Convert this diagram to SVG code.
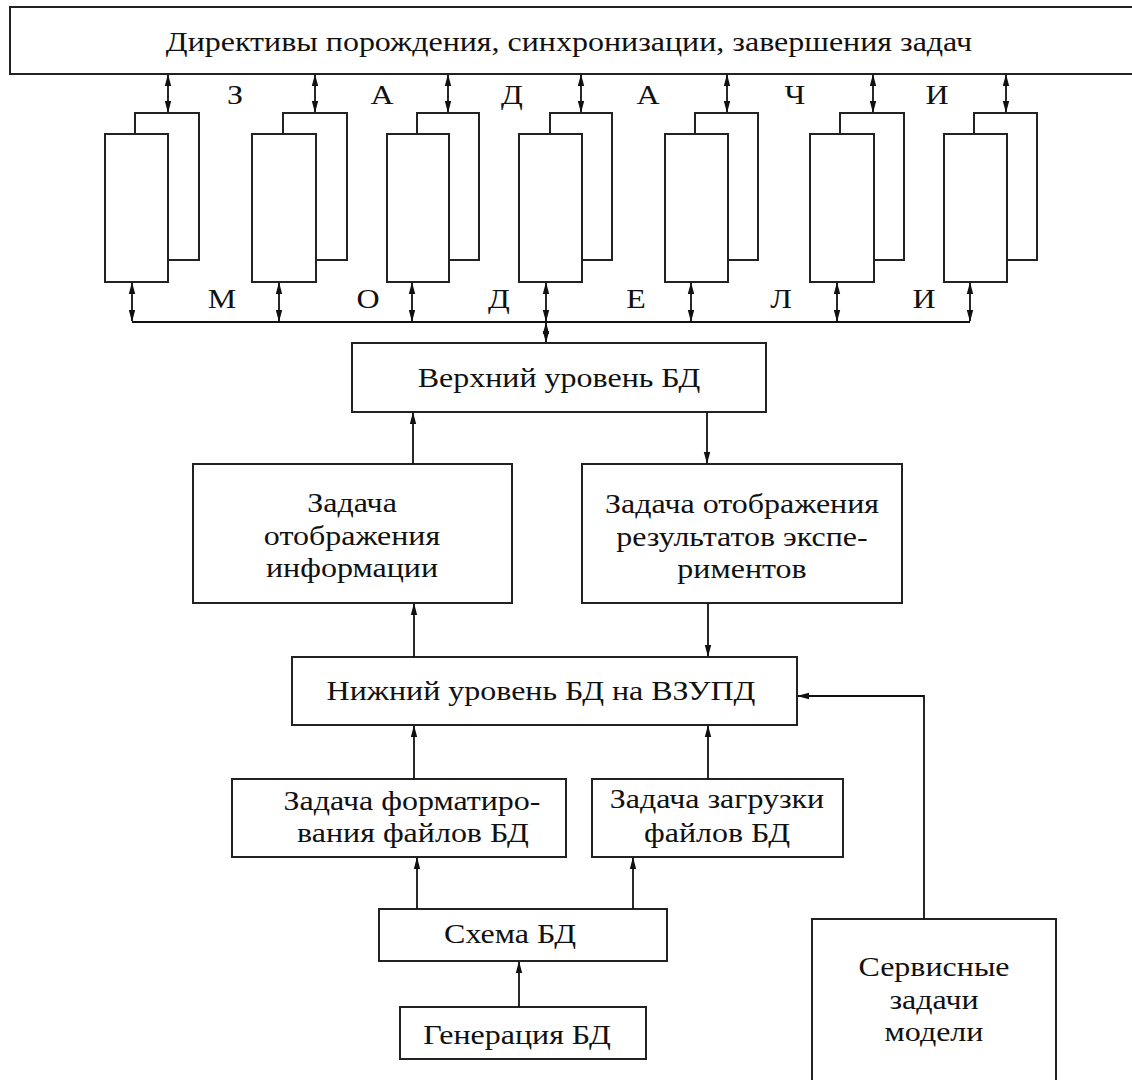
<svg xmlns="http://www.w3.org/2000/svg" width="1132" height="1080" viewBox="0 0 1132 1080">
<style>
.box{fill:#fff;stroke:#222;stroke-width:2}
.back{fill:#fff;stroke:#222;stroke-width:2}
.t{font-family:"Liberation Serif","Times New Roman",serif;font-size:28px;fill:#111;text-anchor:middle}
.c{fill:none;stroke:#111;stroke-width:1.8}
.a{marker-end:url(#ah)}
.d{marker-start:url(#ah);marker-end:url(#ah)}
</style>
<defs>
<marker id="ah" markerUnits="userSpaceOnUse" markerWidth="12" markerHeight="8" refX="11" refY="4" orient="auto-start-reverse" viewBox="0 0 12 8">
<path d="M0,0.8 L12,4 L0,7.2 z" fill="#111"/>
</marker>
</defs>
<rect width="1132" height="1080" fill="#fff"/>

<g id="directives">
<rect class="box" x="10" y="7" width="1130" height="67"/>
<text class="t" transform="translate(569,51) scale(1.143,1)">Директивы порождения, синхронизации, завершения задач</text>
</g>

<g id="task1"><rect class="back" x="135" y="113" width="64" height="147"/><rect class="box" x="105" y="134" width="63" height="148"/></g>
<g id="task2"><rect class="back" x="283" y="113" width="64" height="147"/><rect class="box" x="252" y="134" width="64" height="148"/></g>
<g id="task3"><rect class="back" x="417" y="113" width="62" height="147"/><rect class="box" x="387" y="134" width="62" height="148"/></g>
<g id="task4"><rect class="back" x="550" y="113" width="62" height="147"/><rect class="box" x="519" y="134" width="63" height="148"/></g>
<g id="task5"><rect class="back" x="695" y="113" width="63" height="147"/><rect class="box" x="665" y="134" width="63" height="148"/></g>
<g id="task6"><rect class="back" x="840" y="113" width="64" height="147"/><rect class="box" x="810" y="134" width="64" height="148"/></g>
<g id="task7"><rect class="back" x="974" y="113" width="63" height="147"/><rect class="box" x="944" y="134" width="63" height="148"/></g>

<g id="letters-top">
<text class="t" transform="translate(235,104) scale(1.143,1)">З</text>
<text class="t" transform="translate(382,104) scale(1.143,1)">А</text>
<text class="t" transform="translate(512,104) scale(1.143,1)">Д</text>
<text class="t" transform="translate(648,104) scale(1.143,1)">А</text>
<text class="t" transform="translate(795,104) scale(1.143,1)">Ч</text>
<text class="t" transform="translate(937,104) scale(1.143,1)">И</text>
</g>
<g id="letters-bottom">
<text class="t" transform="translate(222,308) scale(1.143,1)">М</text>
<text class="t" transform="translate(368,308) scale(1.143,1)">О</text>
<text class="t" transform="translate(499,308) scale(1.143,1)">Д</text>
<text class="t" transform="translate(636,308) scale(1.143,1)">Е</text>
<text class="t" transform="translate(781,308) scale(1.143,1)">Л</text>
<text class="t" transform="translate(924,308) scale(1.143,1)">И</text>
</g>

<g id="upper-db"><rect class="box" x="352" y="343" width="414" height="69"/>
<text class="t" transform="translate(559,387) scale(1.143,1)">Верхний уровень БД</text></g>

<g id="display-info"><rect class="box" x="193" y="464" width="319" height="139"/>
<text class="t" transform="translate(352,512) scale(1.143,1)">Задача</text>
<text class="t" transform="translate(352,545) scale(1.143,1)">отображения</text>
<text class="t" transform="translate(352,577) scale(1.143,1)">информации</text></g>

<g id="display-results"><rect class="box" x="582" y="464" width="320" height="139"/>
<text class="t" transform="translate(742,513) scale(1.143,1)">Задача отображения</text>
<text class="t" transform="translate(742,546) scale(1.143,1)">результатов экспе-</text>
<text class="t" transform="translate(742,578) scale(1.143,1)">риментов</text></g>

<g id="lower-db"><rect class="box" x="292" y="657" width="505" height="68"/>
<text class="t" transform="translate(541,700) scale(1.143,1)">Нижний уровень БД на ВЗУПД</text></g>

<g id="format-task"><rect class="box" x="232" y="779" width="334" height="78"/>
<text class="t" transform="translate(412,810) scale(1.143,1)">Задача форматиро-</text>
<text class="t" transform="translate(413,842) scale(1.143,1)">вания файлов БД</text></g>

<g id="load-task"><rect class="box" x="592" y="779" width="251" height="78"/>
<text class="t" transform="translate(717,808) scale(1.143,1)">Задача загрузки</text>
<text class="t" transform="translate(717,842) scale(1.143,1)">файлов БД</text></g>

<g id="schema"><rect class="box" x="379" y="909" width="288" height="52"/>
<text class="t" transform="translate(510,943) scale(1.143,1)">Схема БД</text></g>

<g id="generation"><rect class="box" x="400" y="1007" width="246" height="52"/>
<text class="t" transform="translate(517,1044) scale(1.143,1)">Генерация БД</text></g>

<g id="service"><rect class="box" x="812" y="919" width="244" height="170"/>
<text class="t" transform="translate(934,976) scale(1.143,1)">Сервисные</text>
<text class="t" transform="translate(934,1009) scale(1.143,1)">задачи</text>
<text class="t" transform="translate(934,1041) scale(1.143,1)">модели</text></g>

<g id="connectors">
<line class="c d" x1="168" y1="75" x2="168" y2="112"/>
<line class="c d" x1="315" y1="75" x2="315" y2="112"/>
<line class="c d" x1="448" y1="75" x2="448" y2="112"/>
<line class="c d" x1="581" y1="75" x2="581" y2="112"/>
<line class="c d" x1="727" y1="75" x2="727" y2="112"/>
<line class="c d" x1="873" y1="75" x2="873" y2="112"/>
<line class="c d" x1="1006" y1="75" x2="1006" y2="112"/>
<line class="c d" x1="132" y1="283" x2="132" y2="321"/>
<line class="c d" x1="279" y1="283" x2="279" y2="321"/>
<line class="c d" x1="412" y1="283" x2="412" y2="321"/>
<line class="c d" x1="546" y1="283" x2="546" y2="321"/>
<line class="c d" x1="691" y1="283" x2="691" y2="321"/>
<line class="c d" x1="837" y1="283" x2="837" y2="321"/>
<line class="c d" x1="970" y1="283" x2="970" y2="321"/>
<line class="c" x1="132" y1="322" x2="970" y2="322"/>
<line class="c d" x1="546" y1="323" x2="546" y2="342"/>
<line class="c a" x1="413" y1="464" x2="413" y2="413"/>
<line class="c a" x1="707" y1="412" x2="707" y2="463"/>
<line class="c a" x1="414" y1="657" x2="414" y2="604"/>
<line class="c a" x1="708" y1="603" x2="708" y2="656"/>
<line class="c a" x1="414" y1="779" x2="414" y2="726"/>
<line class="c a" x1="708" y1="779" x2="708" y2="726"/>
<line class="c a" x1="417" y1="909" x2="417" y2="858"/>
<line class="c a" x1="633" y1="909" x2="633" y2="858"/>
<line class="c a" x1="519" y1="1007" x2="519" y2="962"/>
<polyline class="c a" points="924,919 924,696 798,696"/>
</g>
</svg>
